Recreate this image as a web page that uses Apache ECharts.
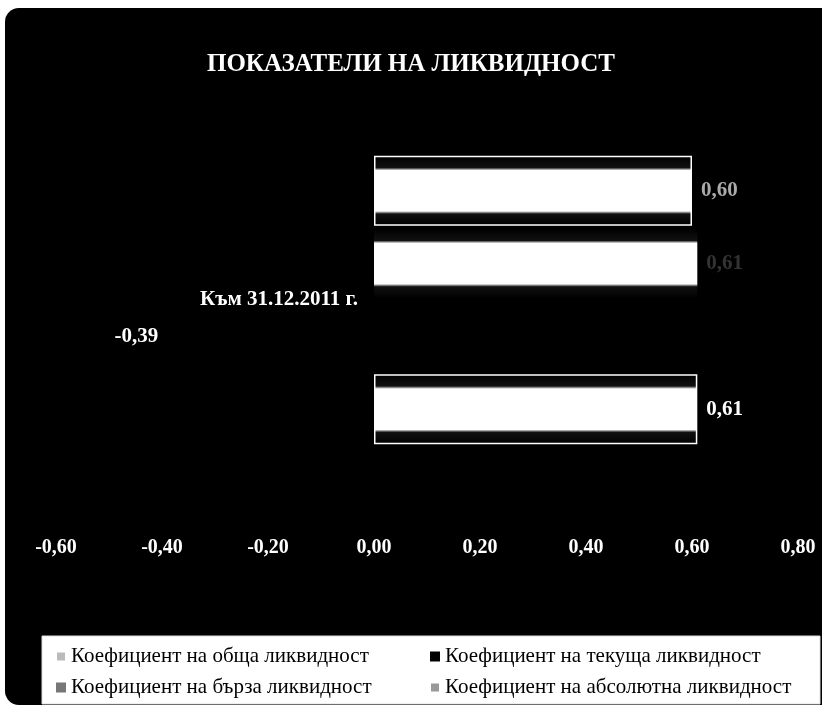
<!DOCTYPE html>
<html>
<head>
<meta charset="utf-8">
<script src="https://cdn.jsdelivr.net/npm/echarts@6/dist/echarts.min.js"></script>
<style>
  html, body { margin: 0; padding: 0; background: #fff; }
</style>
</head>
<body>
<div id="main" style="width: 822px;height:710px;"></div>

<script type="text/javascript">
// данни
var categories = ['Към 31.12.2011 г.'];
var seriesNames = [
	'Коефициент на обща ликвидност',
	'Коефициент на текуща ликвидност',
	'Коефициент на бърза ликвидност',
	'Коефициент на абсолютна ликвидност'
];
var obshta = [0.61];
var tekushta = [-0.39];
var barza = [0.61];
var absolyutna = [0.60];
var xMin = -0.6, xMax = 0.8, xStep = 0.2;

var serif = '"Liberation Serif", "DejaVu Serif", serif';
var gridLeft = 56, gridRight = 24;
// категорийната ос стои на нулата на стойностната ос
var zeroOffset = -(0 - xMin) / (xMax - xMin) * (822 - gridLeft - gridRight);

// бяла лента с черни ивици горе и долу
var stripedFill = {
	type: 'linear', x: 0, y: 0, x2: 0, y2: 1,
	colorStops: [
		{ offset: 0, color: '#000' },
		{ offset: 0.17, color: '#111' },
		{ offset: 0.21, color: '#fff' },
		{ offset: 0.79, color: '#fff' },
		{ offset: 0.83, color: '#111' },
		{ offset: 1, color: '#000' }
	]
};

function fmt(v) {
	return v.toFixed(2).replace('.', ',');
}

function makeBar(name, data, labelColor, pos, fill, border) {
	return {
		name: name,
		type: 'bar',
		data: data,
		barWidth: 70,
		barGap: '4%',
		itemStyle: { color: fill, borderColor: '#fff', borderWidth: border },
		label: {
			show: true,
			position: pos,
			distance: 9,
			color: labelColor,
			fontFamily: serif,
			fontWeight: 'bold',
			fontSize: 21,
			formatter: function (p) { return fmt(p.value); }
		}
	};
}

var myChart = echarts.init(document.getElementById('main'));

var option = {
	backgroundColor: '#fff',
	animation: false,
	graphic: [
		{ type: 'rect', shape: { x: 5, y: 8, width: 840, height: 697, r: 14 }, style: { fill: '#000' }, z: -10 },
		{ type: 'rect', shape: { x: 42, y: 636, width: 778, height: 68 }, style: { fill: '#fff', stroke: '#ddd', lineWidth: 1 }, z: -5 }
	],
	title: {
		text: 'ПОКАЗАТЕЛИ НА ЛИКВИДНОСТ',
		left: 'center',
		top: 47,
		textStyle: { color: '#fff', fontFamily: serif, fontWeight: 'bold', fontSize: 25 }
	},
	legend: [
		{
			left: 50, top: 641, orient: 'vertical', itemGap: 10,
			itemWidth: 10, itemHeight: 10,
			textStyle: { color: '#000', fontFamily: serif, fontSize: 21 },
			data: [
				{ name: seriesNames[0], icon: 'rect', itemStyle: { color: '#bbb' } },
				{ name: seriesNames[2], icon: 'rect', itemStyle: { color: '#777' } }
			]
		},
		{
			left: 424, top: 641, orient: 'vertical', itemGap: 10,
			itemWidth: 10, itemHeight: 10,
			textStyle: { color: '#000', fontFamily: serif, fontSize: 21 },
			data: [
				{ name: seriesNames[1], icon: 'rect', itemStyle: { color: '#000' } },
				{ name: seriesNames[3], icon: 'rect', itemStyle: { color: '#999' } }
			]
		}
	],
	grid: { left: gridLeft, right: gridRight, top: 70, bottom: 180, outerBoundsMode: 'none', containLabel: false },
	xAxis: {
		type: 'value',
		min: xMin, max: xMax, interval: xStep,
		axisLine: { show: false },
		axisTick: { show: false },
		splitLine: { show: false },
		axisLabel: {
			color: '#fff', fontFamily: serif, fontWeight: 'bold', fontSize: 20, margin: 8,
			formatter: function (v) { return fmt(v); }
		}
	},
	yAxis: {
		type: 'category',
		data: categories,
		offset: zeroOffset,
		z: 10,
		axisLine: { show: false, onZero: false },
		axisTick: { show: false },
		axisLabel: {
			color: '#fff', fontFamily: serif, fontWeight: 'bold', fontSize: 21, margin: 16
		}
	},
	// Excel слага първата серия най-долу, ECharts - най-горе
	series: [
		makeBar(seriesNames[3], absolyutna, '#aaa', 'right', stripedFill, 1.5),
		makeBar(seriesNames[2], barza, '#333', 'right', stripedFill, 0),
		makeBar(seriesNames[1], tekushta, '#fff', 'left', '#000', 0),
		makeBar(seriesNames[0], obshta, '#fff', 'right', stripedFill, 1.5)
	]
};

myChart.setOption(option);
</script>
</body>
</html>
